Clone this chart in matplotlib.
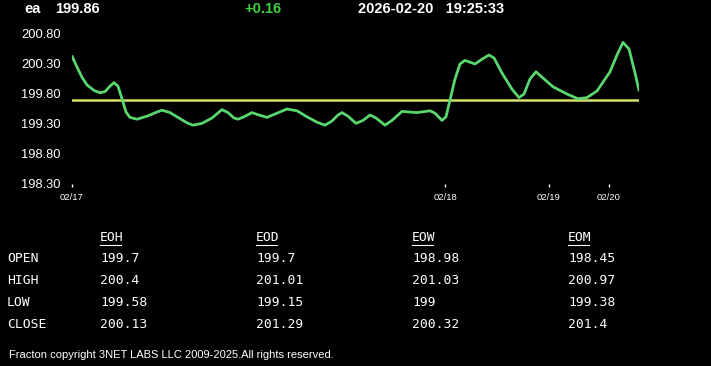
import matplotlib
matplotlib.use('Agg')
from matplotlib import pyplot as plt

# price trace, sample position (minutes-ish offset) and value
t = [0, 5, 10, 15, 22, 28, 33, 38, 42, 46, 50, 54, 58, 65, 75, 85, 90, 98, 108, 115,
     121, 130, 140, 150, 156, 162, 166, 172, 180, 187, 195, 205, 215, 225, 235, 245,
     253, 260, 266, 270, 276, 284, 291, 298, 304, 313, 320, 330, 345, 358, 363, 370,
     374, 378, 383, 388, 393, 398, 403, 410, 417, 422, 430, 440, 447, 452, 458, 464,
     470, 481, 495, 506, 515, 525, 538, 545, 551, 557, 563, 567]
price = [200.43, 200.25, 200.08, 199.95, 199.86, 199.82, 199.84, 199.93, 199.99, 199.93,
         199.72, 199.50, 199.41, 199.38, 199.43, 199.50, 199.53, 199.49, 199.39, 199.32,
         199.28, 199.31, 199.40, 199.54, 199.49, 199.40, 199.38, 199.42, 199.49, 199.45,
         199.41, 199.48, 199.55, 199.52, 199.42, 199.33, 199.28, 199.35, 199.45, 199.49,
         199.43, 199.31, 199.36, 199.45, 199.40, 199.28, 199.36, 199.51, 199.49, 199.52,
         199.48, 199.36, 199.42, 199.70, 200.05, 200.30, 200.36, 200.33, 200.30, 200.38,
         200.45, 200.40, 200.15, 199.88, 199.74, 199.80, 200.05, 200.17, 200.08, 199.92,
         199.80, 199.72, 199.74, 199.85, 200.17, 200.45, 200.66, 200.55, 200.15, 199.86]

date_pos = [0, 373, 477, 537]
date_labels = ['02/17', '02/18', '02/19', '02/20']
y_ticks = [198.30, 198.80, 199.30, 199.80, 200.30, 200.80]

symbol = 'ea'
last = '199.86'
change = '+0.16'
stamp = '2026-02-20   19:25:33'

row_names = ['OPEN', 'HIGH', 'LOW', 'CLOSE']
col_names = ['EOH', 'EOD', 'EOW', 'EOM']
table = {
    'EOH': ['199.7', '200.4', '199.58', '200.13'],
    'EOD': ['199.7', '201.01', '199.15', '201.29'],
    'EOW': ['198.98', '201.03', '199', '200.32'],
    'EOM': ['198.45', '200.97', '199.38', '201.4'],
}
open_ref = float(table['EOH'][0])

W, H = 711, 366
fig = plt.figure(figsize=(W / 100, H / 100), dpi=100, facecolor='black')

ax = fig.add_axes([72 / W, (H - 184) / H, 567 / W, 156 / H], facecolor='black')
ax.plot(t, price, color='#5ad66f', lw=2, solid_capstyle='round',
        solid_joinstyle='round', zorder=3)
ax.axhline(open_ref, color='#d6e06a', lw=1.8, zorder=2)
ax.set_xlim(0, 567)
ax.set_ylim(198.30, 200.90)
for s in ax.spines.values():
    s.set_visible(False)
ax.set_yticks(y_ticks)
ax.set_yticklabels(['%.2f' % v for v in y_ticks], family='Liberation Sans', fontsize=9.3,
                   color='white')
ax.tick_params(axis='y', length=0, pad=8)
ax.set_xticks(date_pos)
ax.set_xticklabels(date_labels, family='Liberation Sans', fontsize=6.8, color='white')
ax.tick_params(axis='x', length=2.5, width=1, color='white', pad=4)

hdr = dict(family='Liberation Sans', fontweight='bold', fontsize=10.5, va='center')
fig.text(24 / W, 1 - 9 / H, symbol, color='white', **hdr)
fig.text(55 / W, 1 - 9 / H, last, color='white', **hdr)
fig.text(244 / W, 1 - 9 / H, change, color='#3fcf3f', **hdr)
fig.text(358 / W, 1 - 9 / H, stamp, color='white', **hdr)

mono = dict(family='DejaVu Sans Mono', fontsize=9.4, color='white', va='center')
col_x = [100, 256, 412, 568]
row_y = [259, 281, 303, 324]
for name, cx in zip(col_names, col_x):
    fig.text(cx / W, 1 - 238 / H, name, **mono)
    fig.lines.append(plt.Line2D([cx / W, (cx + 21) / W], [1 - 245 / H, 1 - 245 / H],
                                color='white', lw=0.8, transform=fig.transFigure))
    for val, ry in zip(table[name], row_y):
        fig.text(cx / W, 1 - ry / H, val, **mono)
for name, ry in zip(row_names, row_y):
    fig.text(7 / W, 1 - ry / H, name, **mono)

fig.text(9 / W, 1 - 355 / H, 'Fracton copyright 3NET LABS LLC 2009-2025.All rights reserved.',
         family='Liberation Sans', fontsize=8.0, color='white', va='center')

fig.savefig('out.png', dpi=100, facecolor='black')
